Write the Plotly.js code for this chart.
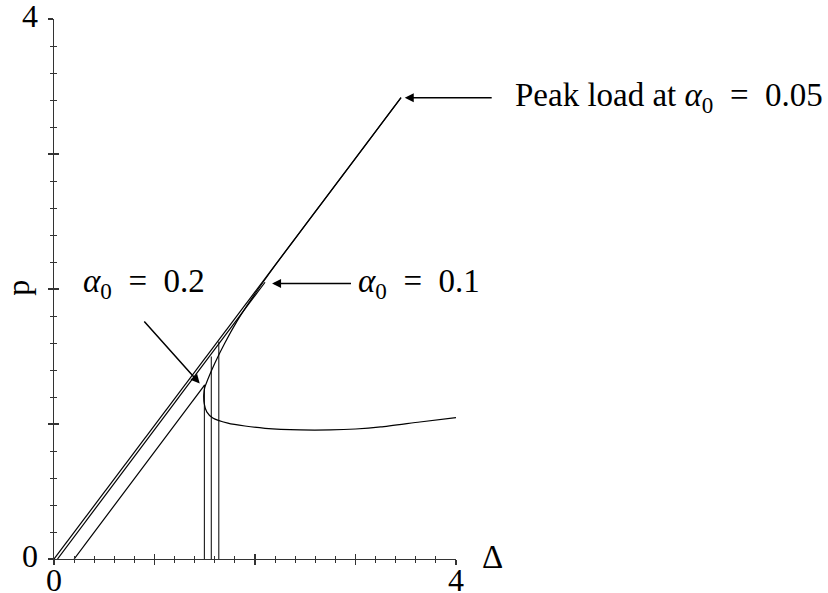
<!DOCTYPE html>
<html>
<head>
<meta charset="utf-8">
<script src="https://cdn.plot.ly/plotly-3.0.1.min.js"></script>
<style>html,body{margin:0;padding:0;background:#fff;}#chart{width:828px;height:593px;}</style>
</head>
<body>
<div id="chart"></div>
<script>
// Elastic loading branch, alpha0 = 0.05 (ends at the peak load)
const loadA_delta = [0.0, 0.6, 1.2, 1.8, 2.4, 3.0, 3.453];
const loadA_p     = [0.0, 0.595, 1.19, 1.785, 2.38, 2.975, 3.417];

// Elastic loading branch, alpha0 = 0.1
const loadB_delta = [0.035, 0.6, 1.2, 1.8, 2.10];
const loadB_p     = [0.0, 0.561, 1.157, 1.753, 2.05];

// Elastic loading branch, alpha0 = 0.2
const loadC_delta = [0.2, 0.8, 1.2, 1.50];
const loadC_p     = [0.0, 0.595, 0.992, 1.29];

// Post-peak (snap-back) branch shared by all notch depths
const post_delta = [3.453, 3.0, 2.5, 2.2, 2.08, 1.95, 1.82, 1.70, 1.60, 1.53, 1.50, 1.49, 1.495, 1.52, 1.58, 1.73, 1.9, 2.1, 2.45, 2.75, 3.0, 3.25, 3.64, 4.0];
const post_p     = [3.417, 2.968, 2.473, 2.175, 2.05, 1.91, 1.76, 1.60, 1.45, 1.33, 1.27, 1.215, 1.15, 1.09, 1.045, 1.007, 0.985, 0.968, 0.956, 0.956, 0.963, 0.978, 1.015, 1.047];

// Vertical drops at the displacement of each jump
const drop_delta = [1.496, 1.565, 1.64];
const drop_top   = [1.29, 1.50, 1.61];

// Axis extents and labelled ticks
const axisMin = 0, axisMax = 4;
const majorTicks = [0, 1, 2, 3, 4];
const labelledTicks = [0, 4];

const dropX = [], dropY = [];
drop_delta.forEach((d, i) => { dropX.push(d, d, null); dropY.push(0, drop_top[i], null); });

const lineStyle = {color: '#000', width: 1.2};
const traces = [
  {x: loadA_delta, y: loadA_p, mode: 'lines', line: lineStyle, hoverinfo: 'skip'},
  {x: loadB_delta, y: loadB_p, mode: 'lines', line: lineStyle, hoverinfo: 'skip'},
  {x: loadC_delta, y: loadC_p, mode: 'lines', line: lineStyle, hoverinfo: 'skip'},
  {x: post_delta, y: post_p, mode: 'lines', line: Object.assign({shape: 'spline', smoothing: 0.6}, lineStyle), hoverinfo: 'skip'},
  {x: dropX, y: dropY, mode: 'lines', line: {color: '#000', width: 1}, hoverinfo: 'skip', connectgaps: false},
  // empty trace that binds the second (inside-tick) axes
  {x: [null], y: [null], xaxis: 'x2', yaxis: 'y2', hoverinfo: 'skip'}
];

const serif = 'Liberation Serif, DejaVu Serif, serif';
const sp = '\u2002';
const baseAxis = {
  range: [axisMin, axisMax], showgrid: false, zeroline: false,
  linecolor: '#333', linewidth: 1.2,
  tickmode: 'array', tickvals: majorTicks, showticklabels: false,
  tickcolor: '#333', tickwidth: 1.2, ticklen: 5,
  fixedrange: true
};
const minorOut = {dtick: 0.2, ticklen: 3, tickcolor: '#333', tickwidth: 1, ticks: 'outside'};
const minorIn  = {dtick: 0.2, ticklen: 3, tickcolor: '#333', tickwidth: 1, ticks: 'inside'};

const annotations = [];
// tick labels at the axis ends (paper position of each tick value)
labelledTicks.forEach(v => {
  const frac = (v - axisMin) / (axisMax - axisMin);
  annotations.push({text: String(v), xref: 'paper', yref: 'paper', x: frac, y: -0.038, xanchor: 'center', yanchor: 'middle', showarrow: false, font: {size: 32}});
  annotations.push({text: String(v), xref: 'paper', yref: 'paper', x: -0.035, y: frac + 0.005, xanchor: 'right', yanchor: 'middle', showarrow: false, font: {size: 32}});
});
annotations.push(
  // axis names
  {text: 'Δ', xref: 'paper', yref: 'paper', x: 1.06, y: 0.004, xanchor: 'left', yanchor: 'middle', showarrow: false, font: {size: 33}},
  {text: 'p', xref: 'paper', yref: 'paper', x: -0.09, y: 0.502, xanchor: 'center', yanchor: 'middle', textangle: -90, showarrow: false, font: {size: 32}},
  // curve labels
  {text: 'Peak load at <i>α</i><sub>0</sub>' + sp + '=' + sp + '0.05', xref: 'paper', yref: 'y', x: 1.142, y: 3.417, xanchor: 'left', yanchor: 'middle', showarrow: false},
  {text: '<i>α</i><sub>0</sub>' + sp + '=' + sp + '0.1', xref: 'x', yref: 'y', x: 3.0, y: 2.04, xanchor: 'left', yanchor: 'middle', showarrow: false},
  {text: '<i>α</i><sub>0</sub>' + sp + '=' + sp + '0.2', xref: 'x', yref: 'y', x: 0.265, y: 2.04, xanchor: 'left', yanchor: 'middle', showarrow: false},
  // arrows
  {text: '', xref: 'x', yref: 'y', axref: 'x', ayref: 'y', x: 3.49, y: 3.417, ax: 4.37, ay: 3.417, showarrow: true, arrowhead: 2, arrowsize: 1.2, arrowwidth: 1.5, arrowcolor: '#000'},
  {text: '', xref: 'x', yref: 'y', axref: 'x', ayref: 'y', x: 2.17, y: 2.04, ax: 2.97, ay: 2.04, showarrow: true, arrowhead: 2, arrowsize: 1.2, arrowwidth: 1.5, arrowcolor: '#000'},
  {text: '', xref: 'x', yref: 'y', axref: 'x', ayref: 'y', x: 1.45, y: 1.30, ax: 0.885, ay: 1.77, showarrow: true, arrowhead: 2, arrowsize: 1.2, arrowwidth: 1.5, arrowcolor: '#000'}
);

const layout = {
  width: 828, height: 593,
  margin: {l: 54, r: 372, t: 19, b: 34},
  paper_bgcolor: '#fff', plot_bgcolor: '#fff',
  showlegend: false,
  font: {family: serif, color: '#000', size: 33},
  xaxis: Object.assign({}, baseAxis, {ticks: 'outside', showline: true, minor: minorOut}),
  yaxis: Object.assign({}, baseAxis, {ticks: 'outside', showline: true, minor: minorOut}),
  xaxis2: Object.assign({}, baseAxis, {overlaying: 'x', ticks: 'inside', showline: false, minor: minorIn}),
  yaxis2: Object.assign({}, baseAxis, {overlaying: 'y', ticks: 'inside', showline: false, minor: minorIn}),
  annotations: annotations
};

Plotly.newPlot('chart', traces, layout, {staticPlot: true, displayModeBar: false});
</script>
</body>
</html>
